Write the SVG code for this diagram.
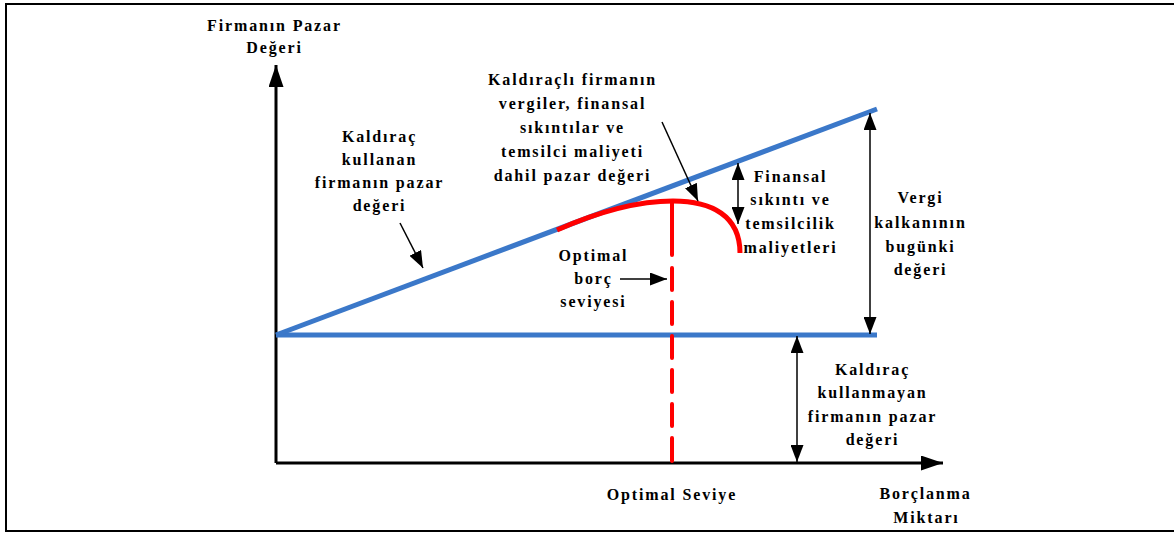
<svg xmlns="http://www.w3.org/2000/svg" width="1174" height="534" viewBox="0 0 1174 534">
<style>
.t{font-family:"Liberation Serif","Times New Roman",serif;font-weight:bold;font-size:16px;letter-spacing:1.85px;text-anchor:middle;fill:#000}
.ax{stroke:#000;stroke-width:3;fill:none}
.thin{stroke:#000;stroke-width:1.5;fill:none}
.blue{stroke:#3b78c9;stroke-width:5;fill:none}
.red{stroke:#ff0000;stroke-width:5;fill:none}
</style>
<defs>
<marker id="big" markerUnits="userSpaceOnUse" markerWidth="22" markerHeight="15" refX="22" refY="7.5" orient="auto"><path d="M0,0 L22,7.5 L0,15 z" fill="#000"/></marker>
<marker id="sm" markerUnits="userSpaceOnUse" markerWidth="17" markerHeight="13" refX="17" refY="6.5" orient="auto-start-reverse"><path d="M0,0 L17,6.5 L0,13 z" fill="#000"/></marker>
</defs>
<rect x="0" y="0" width="1174" height="534" fill="#fff"/>
<rect x="6" y="4" width="1180" height="527" fill="none" stroke="#000" stroke-width="2"/>
<g id="connectors">
<line class="ax" x1="276" y1="463" x2="276" y2="65" marker-end="url(#big)"/>
<line class="ax" x1="276" y1="463" x2="943" y2="463" marker-end="url(#big)"/>
<line class="blue" x1="276" y1="335" x2="877" y2="335"/>
<line class="blue" x1="276" y1="335" x2="877" y2="109"/>
<path class="red" d="M557,230 C600,211 640,201 673,201 C712,201 740,216 740,253"/>
<path d="M672,203 L672,255 M672,268 L672,290 M672,302 L672,324 M672,336 L672,358 M672,370 L672,392 M672,404 L672,426 M672,438 L672,461" stroke="#ff0000" stroke-width="4" stroke-linecap="round" fill="none"/>
<line class="thin" x1="400" y1="223" x2="423" y2="268" marker-end="url(#sm)"/>
<line class="thin" x1="662" y1="122" x2="698" y2="201" marker-end="url(#sm)"/>
<line class="thin" x1="620" y1="279" x2="667" y2="279" marker-end="url(#sm)"/>
<line class="thin" x1="738" y1="163" x2="738" y2="224" marker-start="url(#sm)" marker-end="url(#sm)"/>
<line class="thin" x1="870" y1="113" x2="870" y2="334" marker-start="url(#sm)" marker-end="url(#sm)"/>
<line class="thin" x1="797" y1="336" x2="797" y2="462" marker-start="url(#sm)" marker-end="url(#sm)"/>
</g>
<g id="y-label"><text class="t" x="274.5" y="31">Firmanın Pazar</text><text class="t" x="274.5" y="53">Değeri</text></g>
<g id="levered-label"><text class="t" x="379.5" y="142">Kaldıraç</text><text class="t" x="379.5" y="165">kullanan</text><text class="t" x="379.5" y="188">firmanın pazar</text><text class="t" x="379.5" y="211">değeri</text></g>
<g id="curve-label"><text class="t" x="572.5" y="85">Kaldıraçlı firmanın</text><text class="t" x="572.5" y="109">vergiler, finansal</text><text class="t" x="572.5" y="133">sıkıntılar ve</text><text class="t" x="572.5" y="157">temsilci maliyeti</text><text class="t" x="572.5" y="181">dahil pazar değeri</text></g>
<g id="distress-label"><text class="t" x="790.5" y="182">Finansal</text><text class="t" x="790.5" y="205">sıkıntı ve</text><text class="t" x="790.5" y="229">temsilcilik</text><text class="t" x="790.5" y="253">maliyetleri</text></g>
<g id="shield-label"><text class="t" x="920.5" y="203">Vergi</text><text class="t" x="920.5" y="228">kalkanının</text><text class="t" x="920.5" y="252">bugünki</text><text class="t" x="920.5" y="275">değeri</text></g>
<g id="optimal-label"><text class="t" x="593.5" y="261">Optimal</text><text class="t" x="593.5" y="284">borç</text><text class="t" x="593.5" y="307">seviyesi</text></g>
<g id="unlevered-label"><text class="t" x="872.5" y="375">Kaldıraç</text><text class="t" x="872.5" y="398">kullanmayan</text><text class="t" x="872.5" y="422">firmanın pazar</text><text class="t" x="872.5" y="445">değeri</text></g>
<g id="optimal-level"><text class="t" x="672" y="500">Optimal Seviye</text></g>
<g id="x-label"><text class="t" x="925.5" y="499">Borçlanma</text><text class="t" x="926.5" y="523">Miktarı</text></g>
</svg>
